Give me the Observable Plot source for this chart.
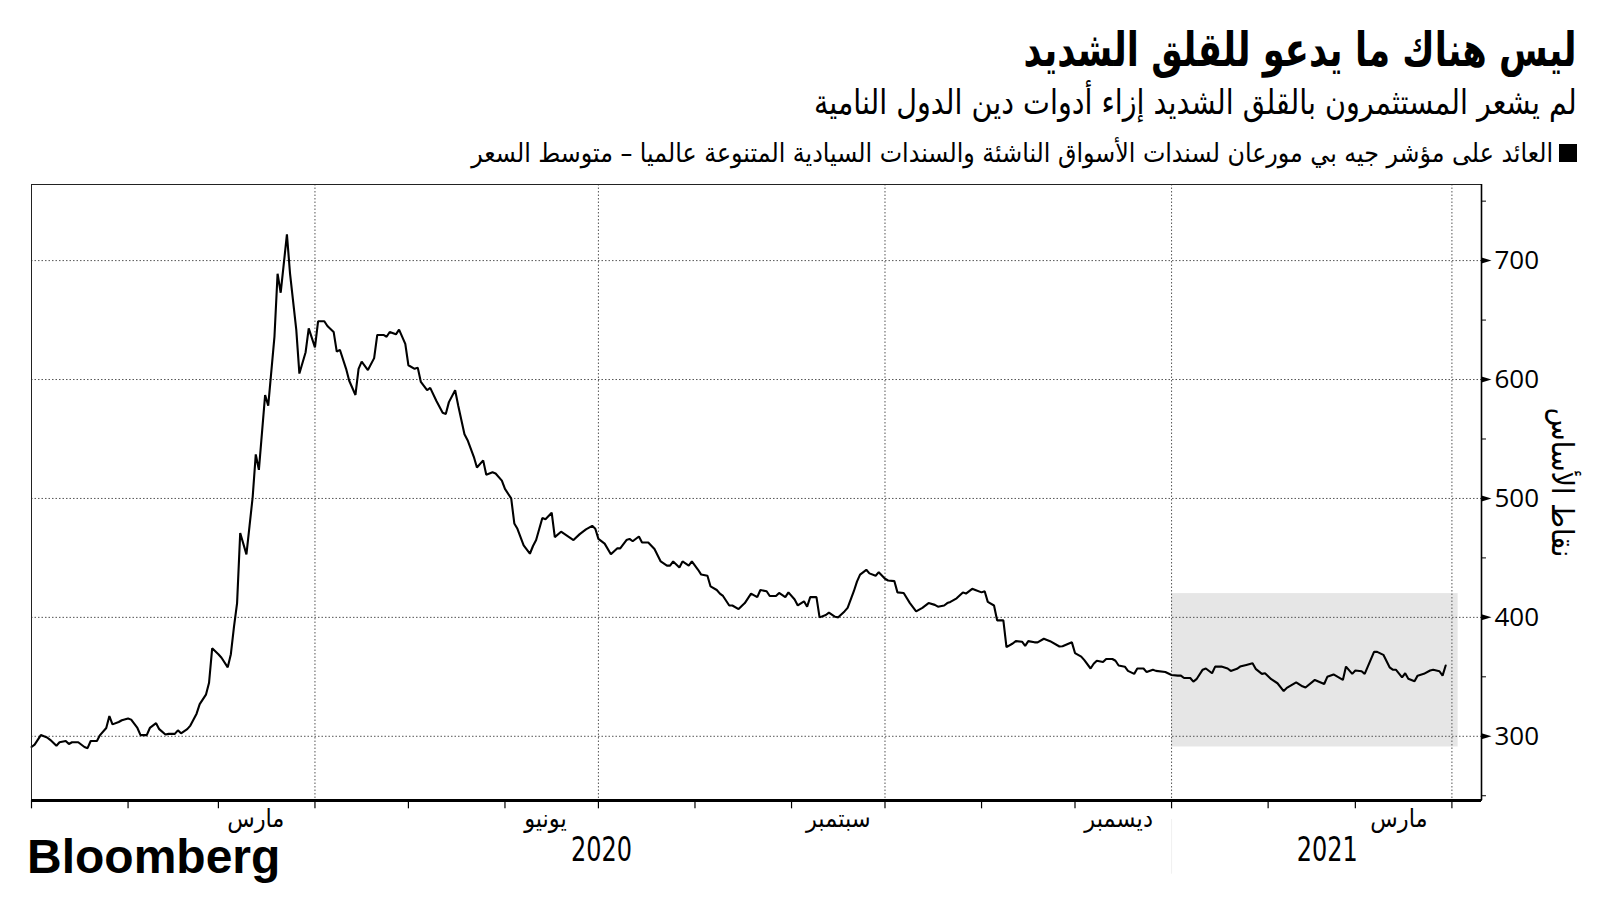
<!DOCTYPE html>
<html lang="ar">
<head>
<meta charset="utf-8">
<script src="https://cdn.jsdelivr.net/npm/d3@7"></script>
<script src="https://cdn.jsdelivr.net/npm/@observablehq/plot@0.6"></script>
<style>
  html, body { margin: 0; padding: 0; background: #fff; }
  body { width: 1600px; height: 900px; position: relative; overflow: hidden; }
  .ar { position: absolute; direction: rtl; white-space: nowrap; color: #000; font-family: "DejaVu Sans Condensed", "DejaVu Sans", sans-serif; transform-origin: right center; }
  #title { right: 23px; top: 26px; font-weight: bold; font-size: 34px; line-height: 1; }
  #subtitle { right: 23px; top: 85px; font-size: 25px; line-height: 1; }
  #legend { right: 23px; top: 140px; font-size: 21px; line-height: 1; display: flex; align-items: center; }
  #legend .sw { display: inline-block; width: 18px; height: 18px; background: #000; margin-left: 6px; }
  #chart { position: absolute; left: 0; top: 170px; }
  #logo { position: absolute; left: 27px; top: 833px; font-family: "Liberation Sans", Arial, sans-serif; font-weight: bold; font-size: 48px; letter-spacing: 0px; line-height: 1; color: #000; }
</style>
</head>
<body>
<div id="title" class="ar" data-w="553" data-s="1.2">ليس هناك ما يدعو للقلق الشديد</div>
<div id="subtitle" class="ar" data-w="763" data-s="1.08">لم يشعر المستثمرون بالقلق الشديد إزاء أدوات دين الدول النامية</div>
<div id="legend" class="ar"><span class="sw"></span><span id="legendText" data-w="1082" data-s="1">العائد على مؤشر جيه بي مورعان لسندات الأسواق الناشئة والسندات السيادية المتنوعة عالميا – متوسط السعر</span></div>
<div id="chart"></div>
<div id="logo">Bloomberg</div>
<script>
// ---- data ----
const dates = [
"2020-01-01","2020-01-02","2020-01-04","2020-01-06","2020-01-07","2020-01-09","2020-01-10","2020-01-12","2020-01-13","2020-01-14",
"2020-01-16","2020-01-18","2020-01-19","2020-01-20","2020-01-22","2020-01-23","2020-01-25","2020-01-26","2020-01-27","2020-01-29",
"2020-01-30","2020-02-01","2020-02-02","2020-02-04","2020-02-05","2020-02-07","2020-02-08","2020-02-10","2020-02-11","2020-02-13",
"2020-02-14","2020-02-16","2020-02-17","2020-02-18","2020-02-20","2020-02-21","2020-02-23","2020-02-24","2020-02-26","2020-02-27",
"2020-02-28","2020-03-01","2020-03-02","2020-03-04","2020-03-05","2020-03-06","2020-03-07","2020-03-08","2020-03-10","2020-03-11",
"2020-03-12","2020-03-13","2020-03-14","2020-03-16","2020-03-17","2020-03-19","2020-03-20","2020-03-21","2020-03-23","2020-03-24",
"2020-03-26","2020-03-27","2020-03-29","2020-03-30","2020-04-01","2020-04-02","2020-04-04","2020-04-05","2020-04-07","2020-04-08",
"2020-04-09","2020-04-11","2020-04-12","2020-04-14","2020-04-15","2020-04-16","2020-04-18","2020-04-20","2020-04-21","2020-04-23",
"2020-04-24","2020-04-25","2020-04-27","2020-04-28","2020-04-30","2020-05-01","2020-05-03","2020-05-04","2020-05-05","2020-05-07",
"2020-05-08","2020-05-10","2020-05-12","2020-05-13","2020-05-14","2020-05-16","2020-05-17","2020-05-19","2020-05-20","2020-05-22",
"2020-05-23","2020-05-25","2020-05-26","2020-05-28","2020-05-29","2020-05-31","2020-06-01","2020-06-03","2020-06-04","2020-06-05",
"2020-06-07","2020-06-09","2020-06-10","2020-06-11","2020-06-13","2020-06-14","2020-06-16","2020-06-17","2020-06-19","2020-06-21",
"2020-06-23","2020-06-25","2020-06-27","2020-06-29","2020-06-30","2020-07-01","2020-07-03","2020-07-05","2020-07-07","2020-07-08",
"2020-07-10","2020-07-11","2020-07-12","2020-07-14","2020-07-15","2020-07-17","2020-07-19","2020-07-21","2020-07-23","2020-07-24",
"2020-07-25","2020-07-27","2020-07-28","2020-07-30","2020-07-31","2020-08-02","2020-08-03","2020-08-05","2020-08-06","2020-08-08",
"2020-08-09","2020-08-10","2020-08-12","2020-08-13","2020-08-15","2020-08-17","2020-08-19","2020-08-21","2020-08-22","2020-08-24",
"2020-08-25","2020-08-27","2020-08-28","2020-08-30","2020-08-31","2020-09-02","2020-09-03","2020-09-05","2020-09-06","2020-09-07",
"2020-09-09","2020-09-10","2020-09-12","2020-09-13","2020-09-15","2020-09-16","2020-09-18","2020-09-19","2020-09-21","2020-09-22",
"2020-09-23","2020-09-25","2020-09-26","2020-09-28","2020-09-29","2020-10-01","2020-10-02","2020-10-04","2020-10-05","2020-10-07",
"2020-10-09","2020-10-11","2020-10-13","2020-10-15","2020-10-17","2020-10-18","2020-10-20","2020-10-21","2020-10-22","2020-10-24",
"2020-10-26","2020-10-27","2020-10-29","2020-10-30","2020-11-01","2020-11-02","2020-11-03","2020-11-05","2020-11-06","2020-11-08",
"2020-11-09","2020-11-11","2020-11-12","2020-11-14","2020-11-15","2020-11-16","2020-11-18","2020-11-19","2020-11-21","2020-11-23",
"2020-11-26","2020-11-27","2020-11-30","2020-12-01","2020-12-03","2020-12-04","2020-12-06","2020-12-07","2020-12-08","2020-12-10",
"2020-12-11","2020-12-13","2020-12-14","2020-12-15","2020-12-17","2020-12-18","2020-12-20","2020-12-21","2020-12-23","2020-12-24",
"2020-12-26","2020-12-27","2020-12-30","2021-01-01","2021-01-03","2021-01-04","2021-01-05","2021-01-07","2021-01-08","2021-01-09",
"2021-01-11","2021-01-12","2021-01-14","2021-01-15","2021-01-17","2021-01-19","2021-01-20","2021-01-22","2021-01-23","2021-01-25",
"2021-01-27","2021-01-28","2021-01-30","2021-01-31","2021-02-02","2021-02-04","2021-02-06","2021-02-07","2021-02-10","2021-02-12",
"2021-02-13","2021-02-16","2021-02-19","2021-02-20","2021-02-22","2021-02-25","2021-02-26","2021-02-28","2021-03-01","2021-03-03",
"2021-03-04","2021-03-07","2021-03-08","2021-03-10","2021-03-12","2021-03-13","2021-03-14","2021-03-16","2021-03-17","2021-03-18",
"2021-03-20","2021-03-21","2021-03-23","2021-03-25","2021-03-26","2021-03-28","2021-03-29","2021-03-30"
];
const values = [
291,293,301,299,297,292,295,296,293.5,295,
295,291,290,296,296,301,307,317,310,312,
313.5,315,314,307,301,301,307,311,306,301.5,
302,302,305,302.5,306,309,319,327,335,345,
374,369,366,358,369,392,412,471,453,477,
501,537,524,587,578,636,689,673,722,689,
642,605,623,643,627,649,649,645,640,623.5,
625,609,599,587,609,615,608,618,637.5,637.5,
636,640,638,642,630,612,609,610,598,591,
593,582,572,571,581,591,578,554,549,535,
526,532,520,522,521,515,508,500,479,474.5,
460.5,453.5,460,465,483.5,482.5,488,467.5,472,468.5,
465,470,474,477,474.5,466,462,453,458,458,
465,466,464,468,463,463,457.5,447,443.5,443.5,
447,442,447,443.5,447,440,436,435,426,423,
420,418,410,410,407,412,420,417,423,422,
418,418,420.5,417,421,415,410,413.5,409,417,
417,400,402,404,400.5,400,405,408,422,430,
436,440,437,435,438,432.5,431,430.5,421,420.5,
412,405,408,412,410.5,409,410,412,413,416,
421,420,424,423,421,422,413,410,397.5,397.5,
375,378,380,379.5,376,380,379,379,382,380,
375.5,375.7,379,370,367,364,357,361,363.5,362.5,
365,365,363.5,359.5,358.5,355,352.5,357,357,354,
356,355,354,351.5,351,351,349,349,346,348,
356,357,353,358.6,358.6,357,355,356.7,358.6,360,
361.4,356.7,352.5,353,348,344.6,338,340.7,345.4,342,
341,347.4,344,350,352,347.4,358.6,352.5,355.3,354.7,
352.5,371,371,368.5,358,356,356,349.6,353,348.3,
346.3,351,352.5,355.3,356,354.7,351,359.5
];
const yTicks = [300, 400, 500, 600, 700];
const yMinorTicks = [250, 350, 450, 550, 650, 750];
const gridDates = ["2020-04-01", "2020-07-01", "2020-10-01", "2021-01-01", "2021-04-01"];
const monthLabelDates = ["2020-03-13", "2020-06-14", "2020-09-16", "2020-12-15", "2021-03-15"];
const monthLabels = ["مارس", "يونيو", "سبتمبر", "ديسمبر", "مارس"];
const yearLabelDates = ["2020-07-02", "2021-02-20"];
const yearLabels = ["2020", "2021"];
const shadeStart = "2021-01-01", shadeEnd = "2021-04-03";
const shadeLow = 291, shadeHigh = 420;
const yAxisTitle = "نقاط الأساس";

// ---- build ----
const data = dates.map((d, i) => ({date: new Date(d), value: values[i]}));
const xMin = new Date(Date.UTC(2020, 0, 1));
const xMax = new Date(Date.UTC(2021, 3, 10, 12));
const yMin = 246, yMax = 764;
const monthStarts = d3.utcMonths(xMin, new Date(Date.UTC(2021, 3, 2)));
const xPlus = new Date(+xMax + 1.6 * 864e5);
const triRight = {draw(ctx) { ctx.moveTo(0, -3); ctx.lineTo(10, 0); ctx.lineTo(0, 3); ctx.closePath(); }};
const arFont = "'DejaVu Sans Condensed', 'DejaVu Sans', sans-serif";
const gridStyle = {stroke: "#555", strokeWidth: 1, strokeDasharray: "1.5,2"};

const chart = Plot.plot({
  width: 1600,
  height: 700,
  marginTop: 14,
  marginLeft: 31,
  marginRight: 119,
  marginBottom: 70,
  x: {type: "utc", domain: [xMin, xMax], axis: null},
  y: {domain: [yMin, yMax], axis: null},
  style: {background: "transparent", overflow: "visible"},
  marks: [
    Plot.rect([0], {x1: () => new Date(shadeStart), x2: () => new Date(shadeEnd), y1: () => shadeLow, y2: () => shadeHigh, fill: "#e6e6e6"}),
    Plot.ruleY(yTicks, {y: d => d, ...gridStyle}),
    Plot.ruleX(gridDates, {x: d => new Date(d), ...gridStyle}),
    Plot.ruleX([new Date(shadeStart)], {x: d => d, y1: () => yMin - 16, y2: () => yMin - 62, stroke: "#f0f0f0", strokeWidth: 1}),
    Plot.line(data, {x: "date", y: "value", stroke: "#000", strokeWidth: 2.1, strokeLinejoin: "miter"}),
    Plot.frame({stroke: "#222", strokeWidth: 1}),
    Plot.ruleX([xMax], {x: d => d, stroke: "#000", strokeWidth: 1.6}),
    Plot.ruleY([yMin], {y: d => d, stroke: "#000", strokeWidth: 3}),
    Plot.ruleX(monthStarts, {x: d => d, y1: () => yMin, y2: () => yMin - 7, stroke: "#000", strokeWidth: 1.2}),
    Plot.dot(yTicks, {x: () => xMax, y: d => d, symbol: triRight, fill: "#000", stroke: "none"}),
    Plot.ruleY(yMinorTicks, {y: d => d, x1: () => xMax, x2: () => xPlus, stroke: "#000", strokeWidth: 1}),
    Plot.text(yTicks, {x: () => xMax, y: d => d, text: d => String(d), textAnchor: "start", dx: 13, fontSize: 26, fontFamily: "'Open Sans', 'Noto Sans', sans-serif", fill: "#000"}),
    Plot.text([yAxisTitle], {frameAnchor: "right", text: d => d, textAnchor: "middle", dx: 80, dy: -10, rotate: 90, fontSize: 30, fontFamily: arFont, fill: "#000"}),
    Plot.text(monthLabelDates, {x: d => new Date(d), text: (d, i) => monthLabels[i], frameAnchor: "bottom", dy: 26, fontSize: 25, fontFamily: arFont, fill: "#000"}),
    Plot.text(yearLabelDates, {x: d => new Date(d), text: (d, i) => yearLabels[i], frameAnchor: "bottom", dy: 60, fontSize: 33, fontFamily: "'DejaVu Sans Condensed', sans-serif", fill: "#000", className: "yearlab"})
  ]
});
document.getElementById("chart").appendChild(chart);

// narrow the year labels to the reference's condensed digits
for (const t of chart.querySelectorAll(".yearlab text")) {
  t.setAttribute("textLength", 61);
  t.setAttribute("lengthAdjust", "spacingAndGlyphs");
}

// fit header text widths to the reference widths (condensed by data-s)
for (const el of document.querySelectorAll("[data-w]")) {
  const target = +el.dataset.w, s = +el.dataset.s || 1;
  const fs = parseFloat(getComputedStyle(el).fontSize);
  const w = el.getBoundingClientRect().width;
  if (w > 0) {
    el.style.fontSize = (fs * target * s / w).toFixed(2) + "px";
    if (s !== 1) { el.style.display = "inline-block"; el.style.transform = `scaleX(${1 / s})`; }
  }
}
</script>
</body>
</html>
